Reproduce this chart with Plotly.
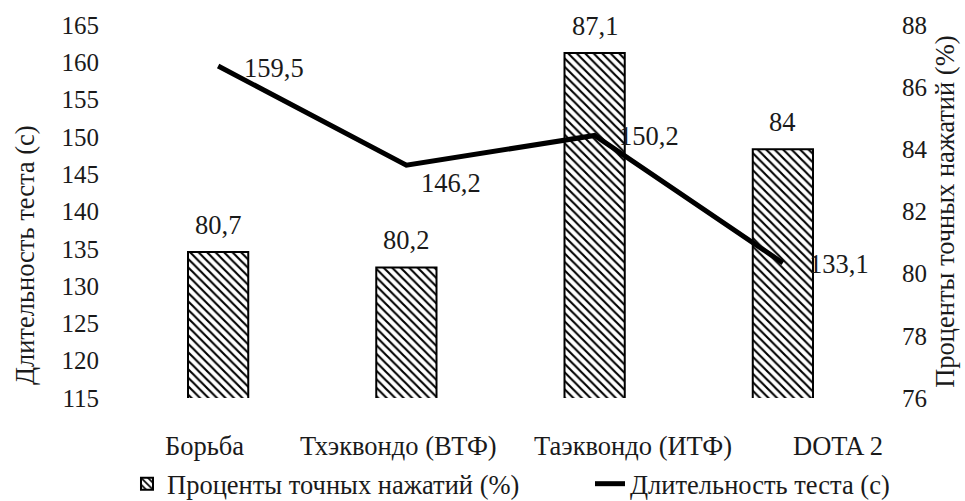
import plotly.graph_objects as go

# --- data -------------------------------------------------------------
categories = ["Борьба", "Тхэквондо (ВТФ)", "Таэквондо (ИТФ)", "DOTA 2"]
accuracy_pct = [80.7, 80.2, 87.1, 84.0]          # Проценты точных нажатий (%)
test_duration_s = [159.5, 146.2, 150.2, 133.1]    # Длительность теста (с)

pct_ticks = [76, 78, 80, 82, 84, 86, 88]
dur_ticks = [115, 120, 125, 130, 135, 140, 145, 150, 155, 160, 165]

name_pct = "Проценты точных нажатий (%)"
name_dur = "Длительность теста (с)"

# --- styling ----------------------------------------------------------
FONT = "Liberation Serif"
INK = "#1a1a1a"
TICK_SIZE = 25
TEXT_SIZE = 26.5

# pixel offsets of the line's value labels (x, y) relative to each point
line_label_shift = [(24, -2), (13, -18), (22, -1), (24, -1)]
# pixel offsets of the category labels relative to their category centre
cat_label_shift = [-14, -8, 38, 55]


def fmt(v):
    return f"{v:g}".replace(".", ",")


fig = go.Figure()

fig.add_trace(go.Bar(
    x=categories,
    y=accuracy_pct,
    name=name_pct,
    yaxis="y",
    legend="legend",
    marker=dict(
        color="white",
        line=dict(color="black", width=2),
        pattern=dict(shape="\\", size=6, solidity=0.35,
                     fgcolor="black", bgcolor="white", fillmode="replace"),
    ),
    width=0.32,
))

fig.add_trace(go.Scatter(
    x=categories,
    y=test_duration_s,
    name=name_dur,
    yaxis="y2",
    legend="legend2",
    mode="lines",
    line=dict(color="black", width=5),
))

annotations = []
# bar value labels
for c, v in zip(categories, accuracy_pct):
    annotations.append(dict(
        x=c, y=v, xref="x", yref="y", text=fmt(v), showarrow=False,
        xanchor="center", yanchor="middle", yshift=27,
        font=dict(family=FONT, size=TEXT_SIZE, color=INK),
    ))
# line value labels
for c, v, (dx, dy) in zip(categories, test_duration_s, line_label_shift):
    annotations.append(dict(
        x=c, y=v, xref="x", yref="y2", text=fmt(v), showarrow=False,
        xanchor="left", yanchor="middle", xshift=dx, yshift=dy,
        font=dict(family=FONT, size=TEXT_SIZE, color=INK),
    ))
# category labels
for c, dx in zip(categories, cat_label_shift):
    annotations.append(dict(
        x=c, y=-0.129, xref="x", yref="paper", text=c, showarrow=False,
        xanchor="center", yanchor="middle", xshift=dx,
        font=dict(family=FONT, size=TEXT_SIZE, color=INK),
    ))
# axis titles
annotations.append(dict(
    x=-0.1315, y=0.383, xref="paper", yref="paper", text=name_dur,
    showarrow=False, textangle=-90, xanchor="center", yanchor="middle",
    font=dict(family=FONT, size=TEXT_SIZE, color=INK),
))
annotations.append(dict(
    x=1.0894, y=0.5, xref="paper", yref="paper", text=name_pct,
    showarrow=False, textangle=-90, xanchor="center", yanchor="middle",
    font=dict(family=FONT, size=TEXT_SIZE, color=INK),
))

legend_style = dict(
    orientation="h", xref="container", yref="container",
    xanchor="left", yanchor="middle", y=0.034,
    font=dict(family=FONT, size=TEXT_SIZE, color=INK),
    itemwidth=30, bgcolor="rgba(0,0,0,0)", borderwidth=0,
)

fig.update_layout(
    width=965, height=501,
    margin=dict(l=124, r=88, t=25, b=103),
    paper_bgcolor="white", plot_bgcolor="white",
    font=dict(family=FONT, color=INK, size=TEXT_SIZE),
    showlegend=True,
    legend=dict(legend_style, x=0.1316),
    legend2=dict(legend_style, x=0.6114),
    xaxis=dict(
        type="category", range=[-0.5, 3.5], showticklabels=False,
        showgrid=False, zeroline=False, showline=False, ticks="",
    ),
    yaxis=dict(
        side="right", range=[76, 88], tickvals=pct_ticks,
        showgrid=False, zeroline=False, showline=False, ticks="",
        ticklabelstandoff=24,
        tickfont=dict(family=FONT, size=TICK_SIZE, color=INK),
    ),
    yaxis2=dict(
        side="left", overlaying="y", range=[115, 165], tickvals=dur_ticks,
        showgrid=False, zeroline=False, showline=False, ticks="",
        ticklabelstandoff=24,
        tickfont=dict(family=FONT, size=TICK_SIZE, color=INK),
    ),
    annotations=annotations,
)

fig.write_html("out.html")
